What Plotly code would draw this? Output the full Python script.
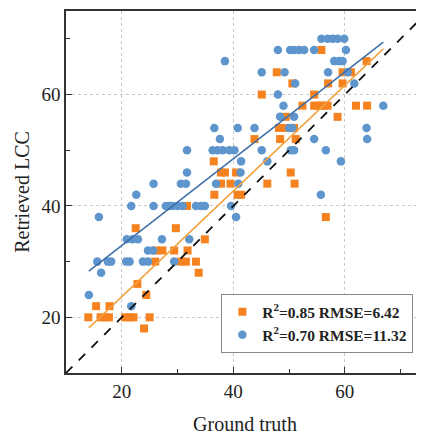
import plotly.graph_objects as go

# Orange squares (R2=0.85)
orange_x = [14.0, 15.4, 16.2, 17.0, 17.7, 17.8, 20.6, 21.4, 22.1, 22.5, 22.8, 24.4, 24.0, 25.0,
            26.0, 26.2, 27.3, 29.4, 29.7, 30.6, 31.5, 31.8, 31.7, 33.3, 33.8, 34.9, 36.5, 36.6,
            37.8, 37.8, 38.5, 39.5, 40.5, 40.8, 41.4, 43.8, 45.1, 46.1, 47.8, 48.2, 48.4, 49.1,
            49.4, 50.3, 51.0, 50.6, 50.9, 51.2, 52.4, 54.5, 54.5, 55.1, 55.8, 55.7, 56.3, 56.9,
            57.0, 56.6, 58.7, 59.6, 59.6, 61.1, 62.0, 63.9, 64.0]
orange_y = [20, 22, 20, 20, 20, 22, 20, 20, 20, 36, 26, 24, 18, 20,
            30, 32, 32, 32, 36, 30, 30, 32, 40, 30, 28, 34, 48, 42,
            44, 46, 46, 44, 46, 42, 42, 52, 60, 44, 64, 54, 52, 54,
            56, 46, 44, 62, 54, 52, 58, 60, 58, 58, 68, 58, 58, 58,
            62, 38, 56, 64, 62, 64, 58, 66, 58]

# Blue circles (R2=0.70)
blue_x = [14.1, 15.9, 15.6, 16.3, 17.5, 18.1, 20.8, 21.4, 21.7, 20.9, 21.9, 21.7, 22.6, 22.9,
          23.8, 24.7, 24.7, 25.6, 25.7, 25.7, 27.2, 27.9, 28.5, 29.1, 30.0, 30.9, 29.4, 30.6,
          31.5, 31.7, 31.7, 32.1, 33.3, 34.2, 34.9, 36.6, 36.3, 37.2, 38.1, 37.6, 36.9, 38.5,
          39.3, 40.2, 39.6, 40.5, 40.8, 40.9, 41.4, 41.3, 43.8, 45.1, 45.1, 46.1, 48.0, 48.0,
          48.4, 49.0, 49.2, 50.0, 50.2, 50.9, 51.8, 52.7, 50.3, 50.9, 50.9, 50.6, 51.1, 54.5,
          54.5, 55.8, 56.9, 57.8, 58.7, 59.9, 55.7, 56.6, 57.0, 58.1, 59.0, 59.6, 59.3, 60.2,
          60.5, 61.7, 63.9, 64.0, 66.9]
blue_y = [24, 38, 30, 28, 30, 30, 30, 30, 40, 34, 34, 22, 42, 34,
          30, 30, 32, 32, 44, 40, 34, 40, 40, 40, 40, 40, 30, 44,
          44, 50, 46, 34, 40, 40, 40, 54, 50, 50, 50, 52, 44, 66,
          50, 50, 40, 38, 54, 44, 48, 46, 54, 50, 64, 48, 68, 60,
          56, 58, 64, 54, 68, 68, 68, 68, 50, 50, 56, 54, 62, 68,
          52, 70, 70, 70, 70, 70, 42, 50, 64, 66, 66, 66, 48, 68,
          64, 62, 54, 52, 58]

assert len(orange_x) == len(orange_y) and len(blue_x) == len(blue_y)

# Fitted lines (endpoints)
fit_x = [14.1, 66.9]
orange_fit_y = [18.1, 68.2]
blue_fit_y = [28.3, 69.4]
one_to_one = [10, 75]

legend_orange = "<b>R<sup>2</sup>=0.85 RMSE=6.42</b>"
legend_blue = "<b>R<sup>2</sup>=0.70 RMSE=11.32</b>"

ORANGE = "#f5821f"
BLUE = "#5f95cd"
SERIF = "Liberation Serif, Times New Roman, serif"

fig = go.Figure()
fig.add_trace(go.Scatter(x=orange_x, y=orange_y, mode="markers", name=legend_orange,
                         marker=dict(symbol="square", size=8, color=ORANGE)))
fig.add_trace(go.Scatter(x=blue_x, y=blue_y, mode="markers", name=legend_blue,
                         marker=dict(symbol="circle", size=8.5, color=BLUE)))
fig.add_trace(go.Scatter(x=one_to_one, y=one_to_one, mode="lines", showlegend=False,
                         line=dict(color="#111111", width=1.8, dash="dash")))
fig.add_trace(go.Scatter(x=fit_x, y=orange_fit_y, mode="lines", showlegend=False,
                         line=dict(color="#f3a13e", width=1.5)))
fig.add_trace(go.Scatter(x=fit_x, y=blue_fit_y, mode="lines", showlegend=False,
                         line=dict(color="#3d6ea6", width=1.5)))

axis_common = dict(
    showline=True, linecolor="#333333", linewidth=1.5, mirror=True,
    ticks="inside", ticklen=6, tickcolor="#333333", tickwidth=1.2,
    showgrid=True, gridcolor="#c8c8c8", griddash="dot", gridwidth=1,
    zeroline=False, tick0=0, dtick=20, automargin=False,
    minor=dict(ticks="inside", ticklen=4, tickcolor="#333333", dtick=10, tick0=0, showgrid=False),
    tickfont=dict(family=SERIF, size=19, color="#222222"),
)

fig.update_xaxes(range=[10, 74.2], title=dict(text="Ground truth", font=dict(family=SERIF, size=20, color="#222222"), standoff=16),
                 **axis_common)
fig.update_yaxes(range=[10, 75], title=dict(text="Retrieved LCC", font=dict(family=SERIF, size=20, color="#222222"), standoff=6),
                 **axis_common)

# The page body adds an 8px offset, so the figure is sized/margined to compensate.
fig.update_layout(
    width=416, height=428,
    margin=dict(l=58, r=0, t=3, b=63),
    plot_bgcolor="white", paper_bgcolor="white",
    legend=dict(x=0.434, y=0.055, xanchor="left", yanchor="bottom",
                bgcolor="white", bordercolor="#888888", borderwidth=1,
                font=dict(family=SERIF, size=15.5, color="#222222"),
                tracegroupgap=0, itemwidth=30),
)

fig.write_html("out.html")
